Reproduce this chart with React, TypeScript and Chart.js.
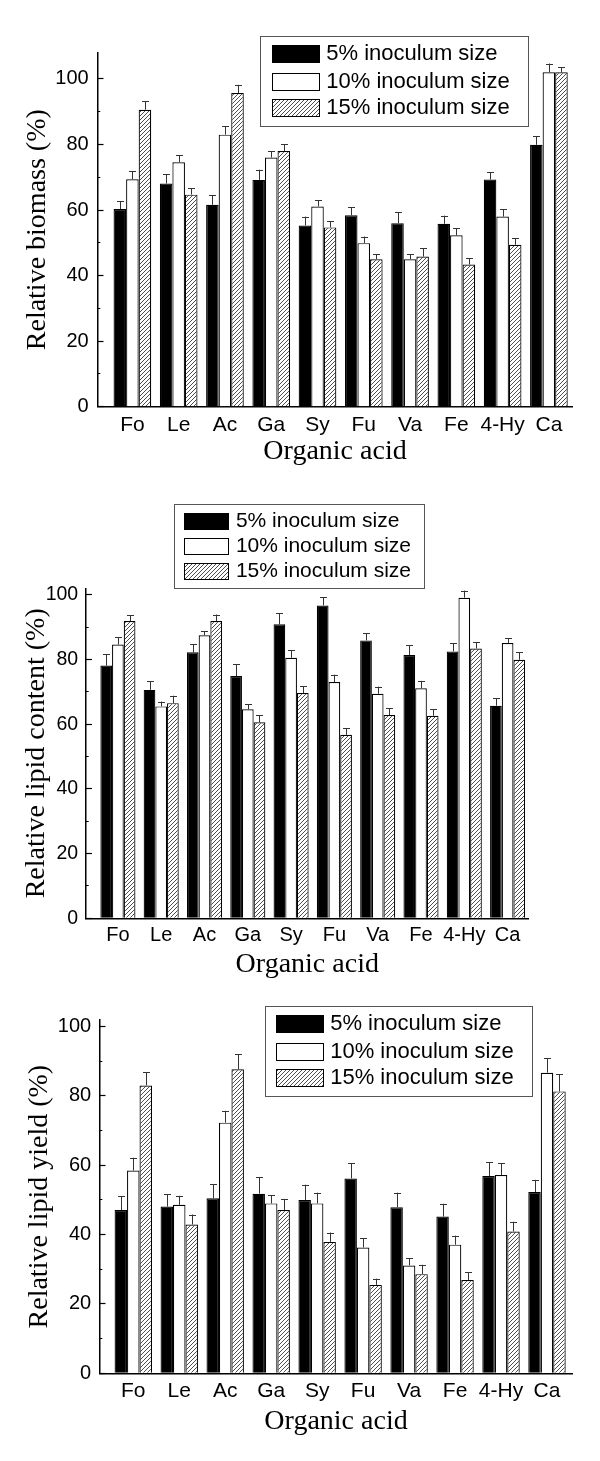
import React, { useEffect, useRef } from 'react';
import { Chart, registerables } from 'chart.js';

Chart.register(...registerables);

// ---------- data ----------
const categories = ['Fo', 'Le', 'Ac', 'Ga', 'Sy', 'Fu', 'Va', 'Fe', '4-Hy', 'Ca'];
const seriesLabels = ['5% inoculum size', '10% inoculum size', '15% inoculum size'];
const yTickValues = [0, 10, 20, 30, 40, 50, 60, 70, 80, 90, 100];
const yTitles = ['Relative biomass (%)', 'Relative lipid content (%)', 'Relative lipid yield (%)'];
const xTitle = 'Organic acid';

const biomass5 = [60.3, 68.1, 61.6, 69.2, 55.3, 58.4, 56.0, 55.8, 69.3, 79.9];
const biomass10 = [69.4, 74.6, 83.0, 76.0, 61.1, 49.9, 45.0, 52.3, 58.0, 102.0];
const biomass15 = [90.6, 64.7, 95.7, 78.0, 54.7, 45.0, 45.8, 43.4, 49.4, 102.0];
const biomassErr5 = [2.4, 2.9, 3.0, 3.1, 2.7, 2.5, 3.4, 2.5, 2.3, 2.6];
const biomassErr10 = [2.5, 2.2, 2.5, 1.9, 1.9, 2.0, 1.5, 2.1, 2.2, 2.7];
const biomassErr15 = [2.6, 2.0, 2.5, 2.0, 1.9, 1.5, 2.6, 1.9, 2.0, 1.5];

const lipid5 = [78.1, 70.6, 82.2, 74.9, 90.9, 96.7, 85.9, 81.4, 82.5, 65.7];
const lipid10 = [84.6, 65.5, 87.5, 64.6, 80.5, 73.0, 69.4, 71.1, 99.1, 85.1];
const lipid15 = [91.9, 66.5, 91.9, 60.6, 69.6, 56.7, 62.8, 62.6, 83.4, 79.9];
const lipidErr5 = [3.5, 2.7, 2.5, 3.6, 3.4, 2.6, 2.2, 3.0, 2.6, 2.3];
const lipidErr10 = [2.3, 1.5, 1.2, 1.6, 2.3, 2.3, 2.2, 2.3, 2.2, 1.4];
const lipidErr15 = [1.8, 2.3, 2.0, 2.2, 2.2, 2.1, 2.1, 2.0, 1.9, 2.3];

const yield5 = [47.1, 48.1, 50.5, 51.8, 50.0, 56.2, 47.9, 45.2, 56.9, 52.3];
const yield10 = [58.5, 48.6, 72.3, 49.0, 49.0, 36.3, 31.1, 37.1, 57.2, 86.7];
const yield15 = [83.0, 42.9, 87.7, 47.1, 37.9, 25.5, 28.6, 26.9, 40.9, 81.3];
const yieldErr5 = [3.9, 3.6, 4.1, 4.7, 4.4, 4.4, 4.2, 3.7, 3.9, 3.5];
const yieldErr10 = [3.7, 2.6, 3.4, 2.4, 3.1, 2.6, 2.1, 2.6, 3.4, 4.1];
const yieldErr15 = [3.9, 2.9, 4.4, 3.2, 2.7, 1.8, 2.7, 2.2, 2.8, 4.9];

// ---------- layout (positions / styles) ----------
type LegendGeom = {
  box: [number, number, number, number];
  swatchX: number; swatchW: number; swatchH: number;
  rows: number[]; textX: number; fontSize: number;
};
type Panel = {
  top: number; height: number;
  area: { left: number; right: number; top: number; bottom: number };
  yMax: number; xMin: number; xMax: number; catPct: number;
  yTitleX: number; xTitleCenter: number; xLabelPad: number; yLabelPad: number;
  xFont: number; yFont: number;
  legend: LegendGeom;
  values: number[][]; errors: number[][]; yTitle: string;
};

const panels: Panel[] = [
  {
    top: 0, height: 480,
    area: { left: 97.5, right: 572.5, top: 52.7, bottom: 406.7 },
    yMax: 108, xMin: -0.754, xMax: 9.51, catPct: 0.814,
    yTitleX: 38, xTitleCenter: 452, xLabelPad: 6, yLabelPad: 14.8, xFont: 21, yFont: 20,
    legend: { box: [260, 35.7, 527.5, 126], swatchX: 271.7, swatchW: 48, swatchH: 18, rows: [54.2, 81.7, 108.3], textX: 326.3, fontSize: 22 },
    values: [biomass5, biomass10, biomass15],
    errors: [biomassErr5, biomassErr10, biomassErr15],
    yTitle: yTitles[0],
  },
  {
    top: 480, height: 520,
    area: { left: 85.9, right: 528.6, top: 108.3, bottom: 438.3 },
    yMax: 102, xMin: -0.739, xMax: 9.485, catPct: 0.81,
    yTitleX: 36.5, xTitleCenter: 485, xLabelPad: 4.7, yLabelPad: 13.7, xFont: 20, yFont: 19.5,
    legend: { box: [174, 24.3, 423.7, 108.3], swatchX: 184.4, swatchW: 45, swatchH: 17, rows: [41.7, 66.7, 91.7], textX: 235.9, fontSize: 21 },
    values: [lipid5, lipid10, lipid15],
    errors: [lipidErr5, lipidErr10, lipidErr15],
    yTitle: yTitles[1],
  },
  {
    top: 980, height: 481,
    area: { left: 99.5, right: 572.5, top: 40, bottom: 393.3 },
    yMax: 101.9, xMin: -0.735, xMax: 9.555, catPct: 0.814,
    yTitleX: 40, xTitleCenter: 441.7, xLabelPad: 5.8, yLabelPad: 14.3, xFont: 21, yFont: 20,
    legend: { box: [264.5, 25.7, 531.7, 116], swatchX: 275.6, swatchW: 48, swatchH: 18, rows: [44.2, 71.7, 98.3], textX: 330.2, fontSize: 22 },
    values: [yield5, yield10, yield15],
    errors: [yieldErr5, yieldErr10, yieldErr15],
    yTitle: yTitles[2],
  },
];

const SANS = '"Liberation Sans", Arial, sans-serif';
const SERIF = '"Liberation Serif", "Times New Roman", serif';

function makeHatch(): CanvasPattern | string {
  const s = 4;
  const c = document.createElement('canvas');
  c.width = s; c.height = s;
  const g = c.getContext('2d');
  if (!g) return '#ccc';
  g.fillStyle = '#ffffff';
  g.fillRect(0, 0, s, s);
  g.strokeStyle = '#3a3a3a';
  g.lineWidth = 0.9;
  g.beginPath();
  g.moveTo(-1, s + 1); g.lineTo(s + 1, -1);
  g.moveTo(-1, 1); g.lineTo(1, -1);
  g.moveTo(s - 1, s + 1); g.lineTo(s + 1, s - 1);
  g.stroke();
  return g.createPattern(c, 'repeat') || '#ccc';
}

const errorBarPlugin = {
  id: 'errorBarsUp',
  afterDatasetsDraw(chart: any) {
    const ctx = chart.ctx;
    const yScale = chart.scales.y;
    ctx.save();
    ctx.strokeStyle = '#333';
    ctx.lineWidth = 1;
    chart.data.datasets.forEach((ds: any, di: number) => {
      const meta = chart.getDatasetMeta(di);
      meta.data.forEach((bar: any, j: number) => {
        const v = ds.data[j].y;
        const e = ds.errors[j];
        const topPx = yScale.getPixelForValue(v + e);
        const x = Math.round(bar.x) + 0.5;
        ctx.beginPath();
        ctx.moveTo(x, bar.y);
        ctx.lineTo(x, topPx);
        ctx.moveTo(x - 3.5, Math.round(topPx) + 0.5);
        ctx.lineTo(x + 3.5, Math.round(topPx) + 0.5);
        ctx.stroke();
      });
    });
    ctx.restore();
  },
};

function makeLegendPlugin(lg: LegendGeom) {
  return {
    id: 'boxLegend',
    afterDraw(chart: any) {
      const ctx = chart.ctx;
      ctx.save();
      const [x0, y0, x1, y1] = lg.box;
      ctx.strokeStyle = '#555';
      ctx.lineWidth = 1;
      ctx.strokeRect(Math.round(x0) + 0.5, Math.round(y0) + 0.5, Math.round(x1 - x0), Math.round(y1 - y0));
      chart.data.datasets.forEach((ds: any, i: number) => {
        const cy = lg.rows[i];
        const sy = Math.round(cy - lg.swatchH / 2);
        const sx = Math.round(lg.swatchX);
        ctx.fillStyle = ds.backgroundColor;
        ctx.fillRect(sx, sy, lg.swatchW, lg.swatchH);
        ctx.strokeStyle = '#000';
        ctx.lineWidth = 1;
        ctx.strokeRect(sx + 0.5, sy + 0.5, lg.swatchW - 1, lg.swatchH - 1);
        ctx.fillStyle = '#000';
        ctx.font = `${lg.fontSize}px ${SANS}`;
        ctx.textBaseline = 'middle';
        ctx.textAlign = 'left';
        ctx.fillText(ds.label, lg.textX, cy);
      });
      ctx.restore();
    },
  };
}

function BarPanel({ panel }: { panel: Panel }) {
  const ref = useRef<HTMLCanvasElement | null>(null);
  useEffect(() => {
    if (!ref.current) return;
    const hatch = makeHatch();
    const fills: any[] = ['#000000', '#ffffff', hatch];
    const titleLH = 28 * 1.2;
    const chart = new Chart(ref.current, {
      type: 'bar',
      data: {
        datasets: panel.values.map((vals, si) => ({
          label: seriesLabels[si],
          data: vals.map((v, i) => ({ x: i, y: v })),
          errors: panel.errors[si],
          backgroundColor: fills[si],
          borderColor: '#000',
          borderWidth: 1.2,
          borderSkipped: 'start',
          categoryPercentage: panel.catPct,
          barPercentage: 1,
        })) as any,
      },
      options: {
        animation: false,
        responsive: false,
        maintainAspectRatio: false,
        events: [],
        layout: {
          padding: { left: 0, top: panel.area.top, right: 600 - panel.area.right, bottom: 0 },
        },
        plugins: {
          legend: { display: false },
          tooltip: { enabled: false },
          title: { display: false },
        },
        scales: {
          x: {
            type: 'linear',
            min: panel.xMin,
            max: panel.xMax,
            offset: false,
            afterBuildTicks: (s: any) => { s.ticks = categories.map((_, i) => ({ value: i })); },
            afterFit: (s: any) => { s.height = panel.height - panel.area.bottom; },
            grid: { display: false, drawTicks: false },
            border: { display: true, color: '#000', width: 1.5 },
            ticks: {
              autoSkip: false,
              maxRotation: 0,
              padding: panel.xLabelPad,
              color: '#000',
              font: { family: SANS, size: panel.xFont },
              callback: (v: any) => categories[Math.round(Number(v))] ?? '',
            },
            title: {
              display: true,
              text: xTitle,
              color: '#000',
              font: { family: SERIF, size: 28 },
              padding: { top: 0, bottom: panel.height - panel.xTitleCenter - titleLH / 2 },
            },
          },
          y: {
            type: 'linear',
            min: 0,
            max: panel.yMax,
            afterBuildTicks: (s: any) => { s.ticks = yTickValues.map((v) => ({ value: v })); },
            afterFit: (s: any) => { s.width = panel.area.left; },
            grid: {
              display: true,
              drawOnChartArea: false,
              drawTicks: true,
              tickLength: -6,
              tickColor: '#000',
              tickWidth: 1.2,
              tickBorderDash: (ctx: any) => (ctx.tick && ctx.tick.value % 20 !== 0 ? [0, 3.2, 3.6, 100] : []),
            },
            border: { display: true, color: '#000', width: 1.5 },
            ticks: {
              padding: panel.yLabelPad,
              color: '#000',
              font: { family: SANS, size: panel.yFont },
              callback: (v: any) => (Number(v) % 20 === 0 ? String(v) : ''),
            },
            title: {
              display: true,
              text: panel.yTitle,
              color: '#000',
              font: { family: SERIF, size: 28 },
              padding: { top: panel.yTitleX - titleLH / 2, bottom: 0 },
            },
          },
        },
      } as any,
      plugins: [errorBarPlugin, makeLegendPlugin(panel.legend)],
    });
    return () => chart.destroy();
  }, [panel]);
  return (
    <canvas
      ref={ref}
      width={600}
      height={panel.height}
      style={{ position: 'absolute', left: 0, top: panel.top, width: 600, height: panel.height }}
    />
  );
}

export default function App() {
  return (
    <div style={{ position: 'absolute', left: 0, top: 0, width: 600, height: 1461, background: '#fff', overflow: 'hidden' }}>
      {panels.map((p, i) => (
        <BarPanel key={i} panel={p} />
      ))}
    </div>
  );
}
